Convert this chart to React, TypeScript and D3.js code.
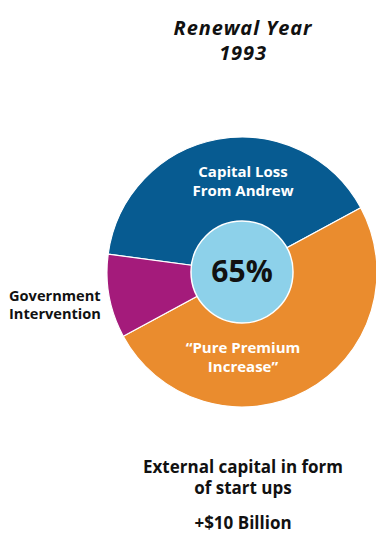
import React from "react";
import * as d3 from "d3";

const categories = ["Capital Loss From Andrew", "\u201cPure Premium Increase\u201d", "Government Intervention"];
const values = [40, 50, 10];
const colors = ["#075b91", "#ea8c2e", "#a41b7b"];
const centerLabel = "65%";
const titleLines = ["Renewal Year", "1993"];
const sliceLabelLines = [["Capital Loss", "From Andrew"], ["\u201cPure Premium", "Increase\u201d"], ["Government", "Intervention"]];
const footerLines = ["External capital in form", "of start ups"];
const footerValue = "+$10 Billion";

const W = 376;
const H = 534;
const FONT = "'Open Sans', 'Noto Sans', sans-serif";

export default function App() {
  const cx = 242;
  const cy = 272;
  const R = 135;
  const rInner = 51;
  const start = (-82.4 * Math.PI) / 180;
  const pie = d3.pie<number>().sort(null).startAngle(start).endAngle(start + 2 * Math.PI);
  const arcs = pie(values);
  const arcGen = d3.arc<d3.PieArcDatum<number>>().innerRadius(0).outerRadius(R);

  return (
    <svg width={W} height={H} style={{ position: "absolute", left: 0, top: 0, display: "block" }}>
      <rect width={W} height={H} fill="#fff" />
      <text fontFamily={FONT} fontWeight="bold" fontStyle="italic" fontSize={20} letterSpacing={0.9} textAnchor="middle" fill="#111" x={243} y={35}>{titleLines[0]}</text>
      <text fontFamily={FONT} fontWeight="bold" fontStyle="italic" fontSize={20} letterSpacing={0.9} textAnchor="middle" fill="#111" x={243} y={60}>{titleLines[1]}</text>
      <g transform={`translate(${cx},${cy})`}>
        {arcs.map((a, i) => (
          <path key={i} d={arcGen(a) || ""} fill={colors[i]} stroke="#fff" strokeWidth={1.2} />
        ))}
        <circle r={rInner} fill="#8dd1ea" stroke="#fff" strokeWidth={1.5} />
        <text y={10} textAnchor="middle" fontFamily={FONT} fontWeight="bold" fontSize={30} fill="#111">{centerLabel}</text>
      </g>
      <text fontFamily={FONT} fontWeight="bold" fontSize={15} textAnchor="middle" fill="#fff">
        <tspan x={243} y={177}>{sliceLabelLines[0][0]}</tspan>
        <tspan x={243} y={196}>{sliceLabelLines[0][1]}</tspan>
      </text>
      <text fontFamily={FONT} fontWeight="bold" fontSize={15} textAnchor="middle" fill="#fff">
        <tspan x={243} y={353}>{sliceLabelLines[1][0]}</tspan>
        <tspan x={243} y={372}>{sliceLabelLines[1][1]}</tspan>
      </text>
      <text fontFamily={FONT} fontWeight="bold" fontSize={14.6} fill="#111">
        <tspan x={9} y={301}>{sliceLabelLines[2][0]}</tspan>
        <tspan x={9} y={319}>{sliceLabelLines[2][1]}</tspan>
      </text>
      <text fontFamily={FONT} fontWeight="bold" fontSize={17} textAnchor="middle" fill="#111">
        <tspan x={243} y={473}>{footerLines[0]}</tspan>
        <tspan x={243} y={494}>{footerLines[1]}</tspan>
      </text>
      <text fontFamily={FONT} fontWeight="bold" fontSize={17} textAnchor="middle" fill="#111" x={243} y={529}>{footerValue}</text>
    </svg>
  );
}
